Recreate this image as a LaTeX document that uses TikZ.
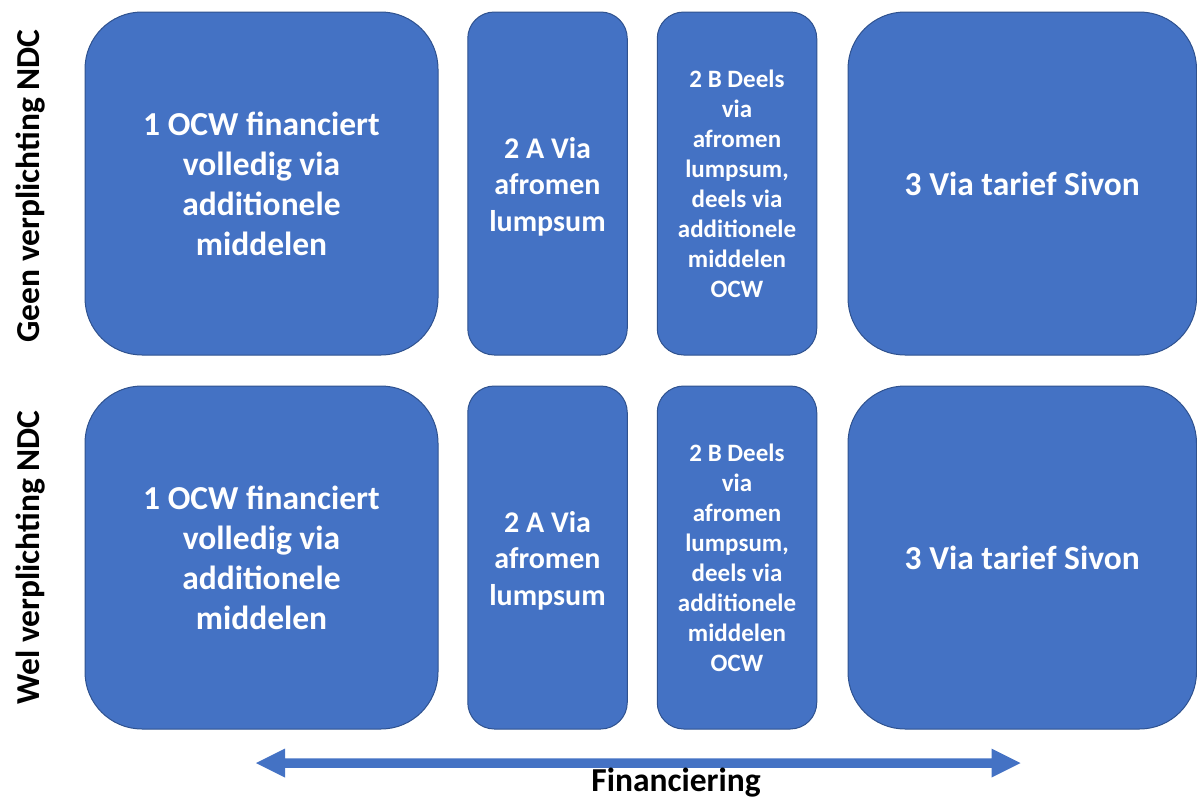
\documentclass[tikz,border=0pt]{standalone}
\usepackage{fontspec}
\setmainfont{Carlito}
\usetikzlibrary{calc}
\definecolor{boxblue}{HTML}{4472C4}
\definecolor{boxline}{HTML}{2F528F}
\begin{document}
\begin{tikzpicture}[x=1pt,y=-1pt,
  cell/.style={draw=boxline, line width=1pt, fill=boxblue, text=white, align=center, inner sep=0pt, outer sep=0pt},
  bigcell/.style={cell, rounded corners=57pt, minimum height=343pt, font=\fontsize{33.5pt}{40pt}\selectfont\bfseries},
  narrowcell/.style={cell, rounded corners=26.5pt, minimum width=159.5pt, minimum height=343pt},
  celltext/.style={text=white, align=center, inner sep=0pt},
  afont/.style={font=\fontsize{30pt}{36.5pt}\selectfont\bfseries},
  bfont/.style={font=\fontsize{25pt}{30pt}\selectfont\bfseries},
  sidelabel/.style={rotate=90, anchor=base, inner sep=0pt, font=\fontsize{33.5pt}{40pt}\selectfont\bfseries},
  axislabel/.style={anchor=base, inner sep=0pt, font=\fontsize{33.5pt}{40pt}\selectfont\bfseries}
]
\useasboundingbox (0,0) rectangle (1197,798);

% row 1
\node[bigcell, minimum width=353pt] (r1c1) at (261.5,183.5) {1 OCW financiert\\volledig via\\additionele\\middelen};
\node[narrowcell] (r1c2) at (547.5,183.5) {};
\node[celltext, afont] (r1c2t) at ($(r1c2.center)+(0,3)$) {2 A Via\\afromen\\lumpsum};
\node[narrowcell, bfont] (r1c3) at (737,183.5) {2 B Deels\\via\\afromen\\lumpsum,\\deels via\\additionele\\middelen\\OCW};
\node[bigcell, minimum width=348.5pt] (r1c4) at (1022.25,183.5) {3 Via tarief Sivon};

% row 2
\node[bigcell, minimum width=353pt] (r2c1) at (261.5,557.5) {1 OCW financiert\\volledig via\\additionele\\middelen};
\node[narrowcell] (r2c2) at (547.5,557.5) {};
\node[celltext, afont] (r2c2t) at ($(r2c2.center)+(0,3)$) {2 A Via\\afromen\\lumpsum};
\node[narrowcell, bfont] (r2c3) at (737,557.5) {2 B Deels\\via\\afromen\\lumpsum,\\deels via\\additionele\\middelen\\OCW};
\node[bigcell, minimum width=348.5pt] (r2c4) at (1022.25,557.5) {3 Via tarief Sivon};

% side labels
\node[sidelabel] (geen) at (39,186) {Geen verplichting NDC};
\node[sidelabel] (wel) at (39,557.5) {Wel verplichting NDC};

% double block arrow
\coordinate (tipL) at (256,763);
\coordinate (tipR) at (1020.5,763);
\fill[boxblue] (tipL) -- ($(tipL)+(29,-14.5)$) -- ($(tipL)+(29,-4.75)$)
  -- ($(tipR)+(-29,-4.75)$) -- ($(tipR)+(-29,-14.5)$) -- (tipR)
  -- ($(tipR)+(-29,14.5)$) -- ($(tipR)+(-29,4.75)$)
  -- ($(tipL)+(29,4.75)$) -- ($(tipL)+(29,14.5)$) -- cycle;
\node[axislabel] (fin) at (676,791) {Financiering};
\end{tikzpicture}
\end{document}
